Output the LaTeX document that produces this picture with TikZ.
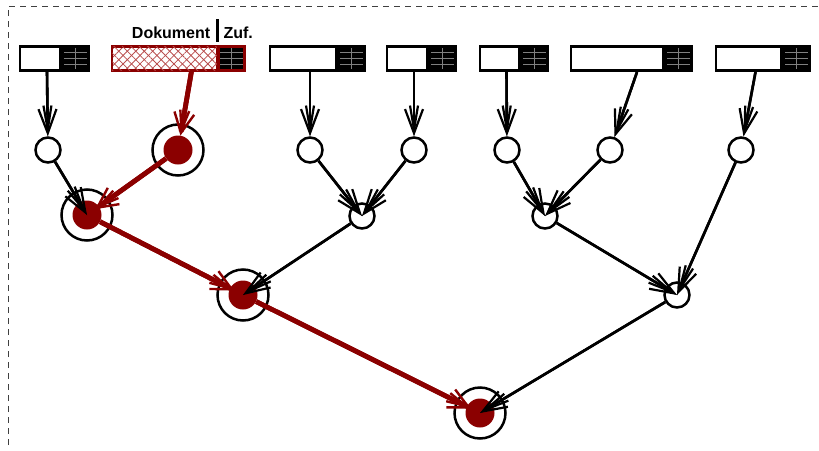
\documentclass[tikz,border=0pt]{standalone}
\usepackage{fontspec}
\setmainfont{Liberation Sans}
\usetikzlibrary{arrows.meta,patterns.meta,calc}
\definecolor{darkred}{RGB}{139,0,0}
\tikzset{
  frame/.style={draw=black!75, line width=1pt, dash pattern=on 6pt off 5pt},
  rec/.style={draw, line width=2.6pt, minimum height=24.5pt, inner sep=0pt, fill=white},
  key/.style={draw, line width=2.6pt, fill=black, minimum height=24.5pt, minimum width=26pt,
    inner sep=0pt, anchor=west,
    path picture={
      \foreach \f in {0.25,0.5,0.75}
        \draw[black!50, line width=0.6pt]
          ($(path picture bounding box.north west)!\f!(path picture bounding box.south west)$) --
          ($(path picture bounding box.north east)!\f!(path picture bounding box.south east)$);
      \draw[black!50, line width=0.6pt]
        (path picture bounding box.north) -- (path picture bounding box.south);
    }},
  hatched/.style={draw=darkred, line width=2.6pt, minimum height=24.5pt, inner sep=0pt,
    pattern={Lines[angle=45,distance=6pt,line width=0.8pt]}, pattern color=red!60!black!70,
    postaction={pattern={Lines[angle=-45,distance=6pt,line width=0.8pt]}, pattern color=red!60!black!70}},
  dot/.style={circle, draw, line width=2.5pt, minimum size=25pt, inner sep=0pt, fill=white},
  hot/.style={circle, fill=darkred, minimum size=29pt, inner sep=0pt},
  ring/.style={circle, draw, line width=2.5pt, minimum size=51pt, inner sep=0pt, fill=white},
  arr/.style={draw, line width=2.6pt,
    -{Straight Barb[length=24pt,width=18pt,line width=2.2pt]},
    postaction={draw, line width=2.6pt, -{Straight Barb[length=24pt,width=8pt,line width=2.2pt]}}},
  rarr/.style={draw=darkred, line width=4.8pt,
    -{Straight Barb[length=20pt,width=20pt,line width=2.4pt]},
    postaction={draw=darkred, line width=4.8pt, -{Straight Barb[length=20pt,width=9pt,line width=2.4pt]}}},
  lbl/.style={font=\bfseries\fontsize{16}{18}\selectfont, inner sep=0pt}
}
\begin{document}
\begin{tikzpicture}[x=1pt,y=-1pt]
\useasboundingbox (0,0) rectangle (819,450);
\draw[frame] (8,445) -- (8,6) -- (819,6);

% input records: data part and key part
\node[rec, minimum width=40pt] (w1) at (40,58.5) {};
\node[key] (k1) at (w1.east) {};
\node[hatched, minimum width=105pt] (w2) at (164.5,58.5) {};
\node[key, draw=darkred] (k2) at (w2.east) {};
\node[rec, minimum width=66pt] (w3) at (303,58.5) {};
\node[key] (k3) at (w3.east) {};
\node[rec, minimum width=40pt] (w4) at (407,58.5) {};
\node[key] (k4) at (w4.east) {};
\node[rec, minimum width=39pt] (w5) at (499.5,58.5) {};
\node[key] (k5) at (w5.east) {};
\node[rec, minimum width=92pt] (w6) at (617,58.5) {};
\node[key] (k6) at (w6.east) {};
\node[rec, minimum width=65pt] (w7) at (748.5,58.5) {};
\node[key] (k7) at (w7.east) {};

% field labels of the highlighted record
\node[lbl, anchor=base east] (doc) at ([xshift=-7pt,yshift=6pt]k2.north west) {Dokument};
\node[lbl, anchor=base west] (zuf) at ([xshift=6pt,yshift=6pt]k2.north west) {Zuf.};
\draw[line width=2.6pt] ([yshift=3pt]k2.north west) -- ([yshift=26pt]k2.north west);

% hash tree nodes
\node[dot] (a1) at (48,150) {};
\node[ring] (r1o) at (178,150) {};
\node[hot] (r1) at (178,150) {};
\node[dot] (a3) at (310,150) {};
\node[dot] (a4) at (414,150) {};
\node[dot] (a5) at (507,150) {};
\node[dot] (a6) at (610,150) {};
\node[dot] (a7) at (741,150) {};

\node[ring] (r2o) at (87,215) {};
\node[hot] (r2) at (87,215) {};
\node[dot] (m1) at (362,216) {};
\node[dot] (m2) at (545,216) {};

\node[ring] (r3o) at (243,295) {};
\node[hot] (r3) at (243,295) {};
\node[dot] (m3) at (677,295) {};

\node[ring] (r4o) at (480,413) {};
\node[hot] (r4) at (480,413) {};

% leaves
\draw[arr] ([xshift=7pt]w1.south) -- (a1);
\draw[rarr] ([xshift=27pt]w2.south) -- (r1);
\draw[arr] ([xshift=7pt]w3.south) -- (a3);
\draw[arr] ([xshift=7pt]w4.south) -- (a4);
\draw[arr] ([xshift=7pt]w5.south) -- (a5);
\draw[arr] ([xshift=20pt]w6.south) -- (a6);
\draw[arr] ([xshift=7pt]w7.south) -- (a7);

% inner levels
\draw[arr] (a1) -- (r2.center);
\draw[rarr, shorten >=10pt] (r1) -- (r2.center);
\draw[arr] (a3) -- (m1.center);
\draw[arr] (a4) -- (m1.center);
\draw[arr] (a5) -- (m2.center);
\draw[arr] (a6) -- (m2.center);
\draw[arr] (a7) -- (m3.center);

\draw[rarr, shorten >=10pt] (r2) -- (r3.center);
\draw[arr] (m1) -- (r3.center);
\draw[arr] (m2) -- (m3.center);

\draw[rarr, shorten >=10pt] (r3) -- (r4.center);
\draw[arr] (m3) -- (r4.center);
\end{tikzpicture}
\end{document}
